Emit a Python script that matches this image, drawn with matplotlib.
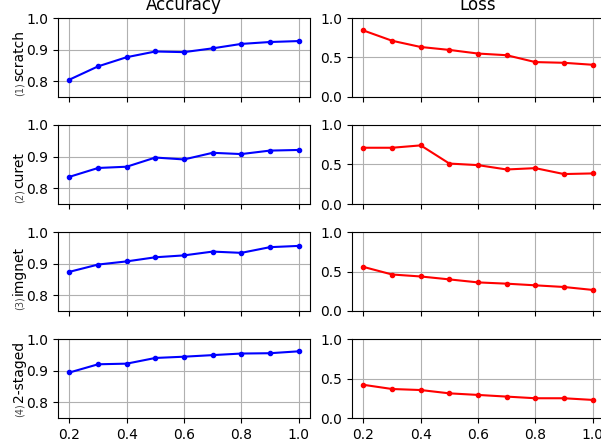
import matplotlib
matplotlib.use("Agg")
import matplotlib.pyplot as plt

fracciones = [0.2, 0.3, 0.4, 0.5, 0.6, 0.7, 0.8, 0.9, 1.0]

nombres = ["scratch", "curet", "imgnet", "2-staged"]
numeros = ["(1)", "(2)", "(3)", "(4)"]

acc_scratch = [0.805, 0.847, 0.876, 0.894, 0.892, 0.904, 0.918, 0.924, 0.927]
acc_curet = [0.836, 0.864, 0.868, 0.897, 0.891, 0.912, 0.908, 0.919, 0.921]
acc_imgnet = [0.874, 0.897, 0.907, 0.920, 0.926, 0.938, 0.934, 0.952, 0.956]
acc_2staged = [0.894, 0.920, 0.922, 0.940, 0.944, 0.949, 0.954, 0.955, 0.961]

loss_scratch = [0.842, 0.712, 0.633, 0.596, 0.550, 0.529, 0.442, 0.433, 0.408]
loss_curet = [0.712, 0.712, 0.742, 0.512, 0.492, 0.437, 0.454, 0.379, 0.387]
loss_imgnet = [0.558, 0.462, 0.437, 0.400, 0.362, 0.346, 0.325, 0.304, 0.267]
loss_2staged = [0.420, 0.367, 0.354, 0.312, 0.292, 0.271, 0.250, 0.250, 0.229]

accuracy = [acc_scratch, acc_curet, acc_imgnet, acc_2staged]
loss = [loss_scratch, loss_curet, loss_imgnet, loss_2staged]

W, H = 601, 444
fig = plt.figure(figsize=(W / 100, H / 100), dpi=100)

ancho = 252
alto = 79
tops = [18, 125, 232, 339]
x_izq = [58, 352]

for i in range(4):
    abajo = 1 - (tops[i] + alto) / H
    ax_a = fig.add_axes([x_izq[0] / W, abajo, ancho / W, alto / H])
    ax_l = fig.add_axes([x_izq[1] / W, abajo, ancho / W, alto / H])

    ax_a.plot(fracciones, accuracy[i], "b.-")
    ax_l.plot(fracciones, loss[i], "r.-")

    ax_a.set_ylim(0.75, 1.0)
    ax_a.set_yticks([0.8, 0.9, 1.0])
    ax_l.set_ylim(0.0, 1.0)
    ax_l.set_yticks([0.0, 0.5, 1.0])

    for ax in (ax_a, ax_l):
        ax.set_xlim(0.16, 1.04)
        ax.set_xticks([0.2, 0.4, 0.6, 0.8, 1.0])
        ax.grid(True)
        if i < 3:
            ax.set_xticklabels([])

    if i == 0:
        ax_a.set_title("Accuracy")
        ax_l.set_title("Loss")

    # etiqueta del eje y: numero chico + nombre
    y0 = 1 - (tops[i] + alto - 1) / H
    fig.text(23 / W, y0, numeros[i], fontsize=7, rotation=90,
             rotation_mode="anchor", ha="left", va="baseline", color="#444444")
    fig.text(23 / W, y0 + 15 / H, nombres[i], fontsize=10, rotation=90,
             rotation_mode="anchor", ha="left", va="baseline")

fig.savefig("out.png", dpi=100)
plt.close(fig)
